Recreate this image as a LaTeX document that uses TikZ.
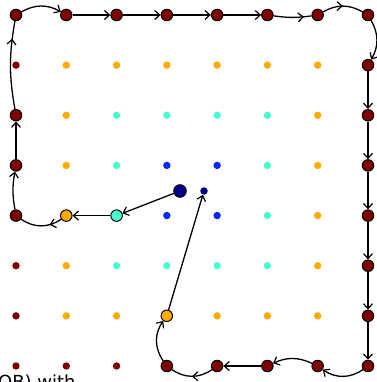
\documentclass[tikz,border=0pt]{standalone}
\usepackage{fontspec}
\newfontfamily\capfont{DejaVu Sans}
\usetikzlibrary{arrows.meta,decorations.markings,backgrounds}

\definecolor{ring0}{RGB}{128,0,0}
\definecolor{ring1}{RGB}{255,170,0}
\definecolor{ring2}{RGB}{72,255,208}
\definecolor{ring3}{RGB}{0,40,255}
\definecolor{deep}{RGB}{0,0,140}

\tikzset{
  stop/.style={circle,draw=black,line width=1pt,inner sep=0pt,minimum size=11.5pt,fill=#1},
  go/.style={line width=1.3pt,-{Straight Barb[length=5pt,width=9pt,line width=1.2pt]}},
  midgo/.style={line width=1.3pt,postaction={decorate},
    decoration={markings,mark=at position #1 with {\arrow{Straight Barb[length=5pt,width=9pt,line width=1.2pt]}}}},
}

\begin{document}
\begin{tikzpicture}[x=1pt,y=-1pt]
    \useasboundingbox (0,0) rectangle (376,382);
    \clip (0,0) rectangle (376,382);
    % Gitter
    \begin{scope}[on background layer]
    \foreach \i in {0,...,7}
      \foreach \j in {0,...,7}{
        \pgfmathtruncatemacro\rng{min(\i,\j,7-\i,7-\j)}
        \fill[fill=ring\rng](16+50.28*\i,15+50.14*\j) circle(3.7);
      }
    \end{scope}
    % Stationen
    \node[stop=deep,minimum size=12.5pt](s)at(180,191){};
    \node[stop=ring2](l1)at(116.6,215.6){};
    \node[stop=ring1](l2)at(66.3,215.6){};
    \foreach \k in {2,3,4}
      \node[stop=ring0](w\k)at(16,15+50.14*\k){};
    \foreach \k in {0,...,7}
      \node[stop=ring0](n\k)at(16+50.28*\k,15){};
    \foreach \k in {1,...,7}
      \node[stop=ring0](e\k)at(368,15+50.14*\k){};
    \foreach \k in {3,...,6}
      \node[stop=ring0](b\k)at(16+50.28*\k,366){};
    \node[stop=ring1](u)at(166.8,315.8){};
    \node[circle,fill=deep,inner sep=0pt,minimum size=7.5pt](f)at(204,191){};
    % Weg
    \begin{scope}[on background layer]
    \draw[go](s)--(l1);
    \draw[go](l1)--(l2);
    \draw[midgo=0.3](l2)to[bend left=35](w4);
    \draw[go](w4)to[bend left=10](w3);
    \draw[go](w3)--(w2);
    \draw[midgo=0.8](w2)to[bend left=10](n0);
    \draw[go](n0)to[bend left=30](n1);
    \foreach \a/\b in {1/2,2/3,3/4,4/5}
      \draw[go](n\a)--(n\b);
    \draw[midgo=0.8](n5)to[bend right=8](n6);
    \draw[midgo=0.5](n6)to[bend left=30](n7);
    \draw[go](n7)to[bend left=30](e1);
    \foreach \a/\b in {1/2,2/3,3/4,4/5,5/6,6/7}
      \draw[go](e\a)--(e\b);
    \draw[go](e7)to[bend left=35](b6);
    \draw[go](b6)to[bend right=25](b5);
    \draw[go](b5)--(b4);
    \draw[midgo=0.5](b4)to[bend left=35](b3);
    \draw[go](b3)to[bend left=35](u);
    \draw[go](u)--(f);
    \end{scope}
    % Beschriftung (abgeschnitten)
    \node[font=\capfont\fontsize{18}{20}\selectfont,anchor=base west,inner sep=0pt](cap)at(-2,388){OB) with};
\end{tikzpicture}
\end{document}
